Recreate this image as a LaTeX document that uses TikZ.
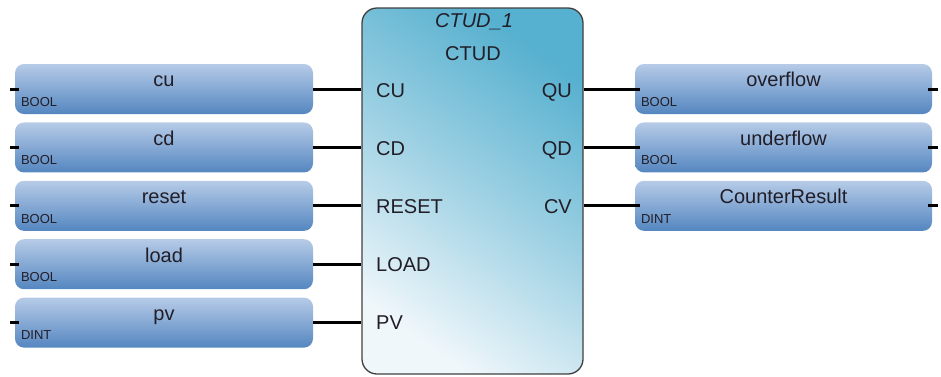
\documentclass[tikz,border=0pt]{standalone}
\usepackage{fontspec}
\setmainfont{Liberation Sans}
\usetikzlibrary{positioning}
\definecolor{vartop}{RGB}{182,203,231}
\definecolor{varbot}{RGB}{84,134,192}
\definecolor{fbdark}{RGB}{86,176,207}
\definecolor{fbmid}{RGB}{160,210,228}
\definecolor{fblight}{RGB}{240,247,251}
\definecolor{txt}{RGB}{34,30,40}

\begin{document}
\begin{tikzpicture}[x=1pt,y=-1pt,
  vbox/.style={rounded corners=9pt,minimum width=298pt,minimum height=50pt,
               inner sep=0pt,top color=vartop,bottom color=varbot},
  blk/.style={draw=black!75,line width=1.3pt,rounded corners=15pt,
              minimum width=221pt,minimum height=366pt,inner sep=0pt,
              top color=fbdark,bottom color=fblight,middle color=fbmid,
              shading angle=-35},
  vname/.style={anchor=base,text=txt,font=\fontsize{20}{24}\selectfont,inner sep=0pt},
  vtype/.style={anchor=base west,text=txt,font=\fontsize{13}{15}\selectfont,inner sep=0pt},
  pinl/.style={text=txt,font=\fontsize{20}{24}\selectfont,inner sep=0pt},
  wire/.style={line width=3pt,black},
  stub/.style={line width=3pt,black}
]
\useasboundingbox (0,0) rectangle (941,376);
% function block
\node[blk] (ctud) at (472.5,191) {};
\node[pinl,anchor=base,font=\fontsize{20}{24}\selectfont\itshape] (inst) at (474,27) {CTUD\_1};
\node[pinl,anchor=base] (type) at (473,60) {CTUD};
% inputs
\node[vbox] (cu) at (164,89) {};
\node[vbox,below=8pt of cu] (cd) {};
\node[vbox,below=8pt of cd] (reset) {};
\node[vbox,below=8pt of reset] (load) {};
\node[vbox,below=8pt of load] (pv) {};
% outputs
\node[vbox,minimum width=297pt] (ovf) at (783.5,89) {};
\node[vbox,minimum width=297pt,below=8pt of ovf] (udf) {};
\node[vbox,minimum width=297pt,below=8pt of udf] (res) {};
% variable names
\node[vname] (cu-n) at ([yshift=-23pt]cu.north) {cu};
\node[vname] (cd-n) at ([yshift=-23pt]cd.north) {cd};
\node[vname] (reset-n) at ([yshift=-23pt]reset.north) {reset};
\node[vname] (load-n) at ([yshift=-23pt]load.north) {load};
\node[vname] (pv-n) at ([yshift=-23pt]pv.north) {pv};
\node[vname] (ovf-n) at ([yshift=-23pt]ovf.north) {overflow};
\node[vname] (udf-n) at ([yshift=-23pt]udf.north) {underflow};
\node[vname] (res-n) at ([yshift=-23pt]res.north) {CounterResult};
% data types
\node[vtype] (cu-t) at ([xshift=6pt,yshift=8pt]cu.south west) {BOOL};
\node[vtype] (cd-t) at ([xshift=6pt,yshift=8pt]cd.south west) {BOOL};
\node[vtype] (reset-t) at ([xshift=6pt,yshift=8pt]reset.south west) {BOOL};
\node[vtype] (load-t) at ([xshift=6pt,yshift=8pt]load.south west) {BOOL};
\node[vtype] (pv-t) at ([xshift=6pt,yshift=8pt]pv.south west) {DINT};
\node[vtype] (ovf-t) at ([xshift=6pt,yshift=8pt]ovf.south west) {BOOL};
\node[vtype] (udf-t) at ([xshift=6pt,yshift=8pt]udf.south west) {BOOL};
\node[vtype] (res-t) at ([xshift=6pt,yshift=8pt]res.south west) {DINT};
% pin names
\node[pinl,anchor=base west] (p-cu) at (376,97) {CU};
\node[pinl,anchor=base west] (p-cd) at (376,155) {CD};
\node[pinl,anchor=base west] (p-reset) at (376,213) {RESET};
\node[pinl,anchor=base west] (p-load) at (376,271) {LOAD};
\node[pinl,anchor=base west] (p-pv) at (376,329) {PV};
\node[pinl,anchor=base east] (p-qu) at (572,97) {QU};
\node[pinl,anchor=base east] (p-qd) at (572,155) {QD};
\node[pinl,anchor=base east] (p-cv) at (572,213) {CV};
% wires
\draw[wire] (cu.east) -- (cu.east -| ctud.west);
\draw[wire] (cd.east) -- (cd.east -| ctud.west);
\draw[wire] (reset.east) -- (reset.east -| ctud.west);
\draw[wire] (load.east) -- (load.east -| ctud.west);
\draw[wire] (pv.east) -- (pv.east -| ctud.west);
\draw[wire,shorten >=-5pt] (ovf.west -| ctud.east) -- (ovf.west);
\draw[wire,shorten >=-5pt] (udf.west -| ctud.east) -- (udf.west);
\draw[wire,shorten >=-5pt] (res.west -| ctud.east) -- (res.west);
% open ends
\draw[stub] ([xshift=-5pt]cu.west) -- ([xshift=4pt]cu.west);
\draw[stub] ([xshift=-5pt]cd.west) -- ([xshift=4pt]cd.west);
\draw[stub] ([xshift=-5pt]reset.west) -- ([xshift=4pt]reset.west);
\draw[stub] ([xshift=-5pt]load.west) -- ([xshift=4pt]load.west);
\draw[stub] ([xshift=-5pt]pv.west) -- ([xshift=4pt]pv.west);
\draw[stub] ([xshift=-4pt]ovf.east) -- ([xshift=6pt]ovf.east);
\draw[stub] ([xshift=-4pt]udf.east) -- ([xshift=6pt]udf.east);
\draw[stub] ([xshift=-4pt]res.east) -- ([xshift=6pt]res.east);
\end{tikzpicture}
\end{document}
